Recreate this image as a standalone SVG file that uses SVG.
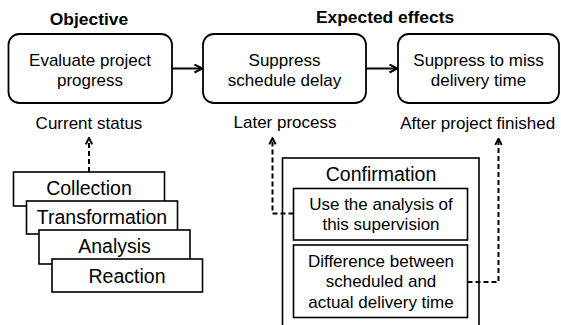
<svg xmlns="http://www.w3.org/2000/svg" width="561" height="325" viewBox="0 0 561 325">
  <style>
    text { font-family: "Liberation Sans", Arial, sans-serif; fill: #000; text-anchor: middle; }
    .title { font-size: 17.4px; font-weight: bold; }
    .lbl { font-size: 17px; }
    .big { font-size: 19.5px; }
    .rbox { fill: #fff; stroke: #000; stroke-width: 1.8; }
    .box { fill: #fff; stroke: #000; stroke-width: 1.6; }
    .solid { fill: none; stroke: #000; stroke-width: 2; marker-end: url(#chev); }
    .dash { fill: none; stroke: #000; stroke-width: 2; stroke-dasharray: 5 3; marker-end: url(#chevSmall); }
  </style>
  <defs>
    <marker id="chev" viewBox="0 0 10 10" refX="9" refY="5" markerWidth="10" markerHeight="10" markerUnits="userSpaceOnUse" orient="auto">
      <path d="M1,1 L9,5 L1,9" fill="none" stroke="#000" stroke-width="2"/>
    </marker>
    <marker id="chevSmall" viewBox="0 0 10 10" refX="9" refY="5" markerWidth="8" markerHeight="9" markerUnits="userSpaceOnUse" orient="auto">
      <path d="M1,1 L9,5 L1,9" fill="none" stroke="#000" stroke-width="2.4"/>
    </marker>
  </defs>

  <!-- headings -->
  <text class="title" x="89" y="25">Objective</text>
  <text class="title" x="385" y="22.5">Expected effects</text>

  <!-- top row -->
  <g id="evaluate">
    <rect class="rbox" x="8.5" y="34" width="163.5" height="69" rx="11"/>
    <text class="lbl" x="90" y="65.5">Evaluate project</text>
    <text class="lbl" x="90" y="85.5">progress</text>
  </g>
  <g id="current-status">
    <text class="lbl" x="89" y="128.5">Current status</text>
  </g>

  <g id="suppress-delay">
    <rect class="rbox" x="203" y="34" width="163" height="69" rx="11"/>
    <text class="lbl" x="284.5" y="65.5">Suppress</text>
    <text class="lbl" x="284.5" y="85.5">schedule delay</text>
  </g>
  <g id="later-process">
    <text class="lbl" x="285" y="128">Later process</text>
  </g>

  <g id="suppress-miss">
    <rect class="rbox" x="398" y="34" width="161" height="69" rx="11"/>
    <text class="lbl" x="478.5" y="65.5">Suppress to miss</text>
    <text class="lbl" x="478.5" y="85.5">delivery time</text>
  </g>
  <g id="after-finished">
    <text class="lbl" x="477.7" y="129">After project finished</text>
  </g>

  <!-- stacked process steps -->
  <g id="collection">
    <rect class="box" x="13.5" y="172" width="151" height="34"/>
    <text class="big" x="89" y="195">Collection</text>
  </g>
  <g id="transformation">
    <rect class="box" x="26.5" y="201" width="151" height="33"/>
    <text class="big" x="102" y="224">Transformation</text>
  </g>
  <g id="analysis">
    <rect class="box" x="39" y="230" width="151" height="34"/>
    <text class="big" x="114.5" y="253.3">Analysis</text>
  </g>
  <g id="reaction">
    <rect class="box" x="52" y="259" width="150.5" height="33"/>
    <text class="big" x="127" y="282.5">Reaction</text>
  </g>

  <!-- confirmation panel -->
  <g id="confirmation">
    <rect class="box" x="282.5" y="158" width="196.5" height="185"/>
    <text class="big" x="381" y="180.7">Confirmation</text>
  </g>
  <g id="use-analysis">
    <rect class="box" x="293.5" y="188.5" width="174" height="51.5"/>
    <text class="lbl" x="381" y="210">Use the analysis of</text>
    <text class="lbl" x="381" y="230">this supervision</text>
  </g>
  <g id="difference">
    <rect class="box" x="293.5" y="245" width="174" height="72.5"/>
    <text class="lbl" x="381" y="266.5">Difference between</text>
    <text class="lbl" x="381" y="287">scheduled and</text>
    <text class="lbl" x="381" y="307.5">actual delivery time</text>
  </g>

  <!-- connectors -->
  <g id="connectors">
    <path class="solid" d="M172,68.5 H202.5"/>
    <path class="solid" d="M366,68.5 H397.5"/>
    <path class="dash" d="M89,172 V138"/>
    <path class="dash" d="M293.5,213.5 H272.5 V138"/>
    <path class="dash" d="M467.5,282 H498.5 V138.5"/>
  </g>
</svg>
